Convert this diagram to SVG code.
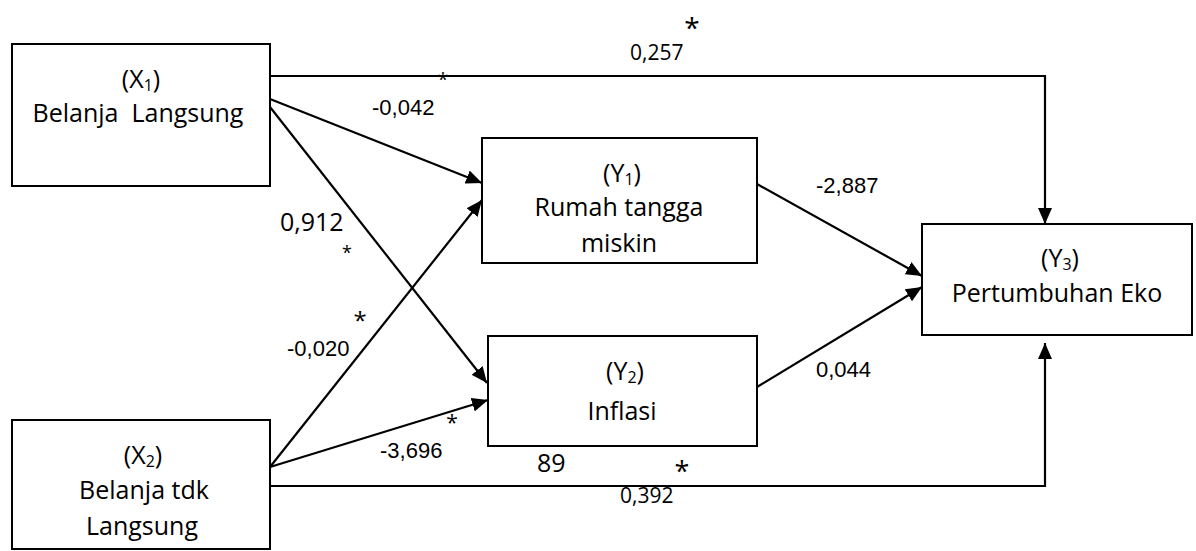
<svg xmlns="http://www.w3.org/2000/svg" width="1196" height="551" viewBox="0 0 1196 551">
<defs>
<style>
.box{fill:#fff;stroke:#000;stroke-width:2}
.lbl{font-family:"Open Sans",sans-serif;font-size:25px;fill:#000;text-anchor:middle}
.sub{font-size:16px}
.ar{font-family:"Liberation Sans",Arial,sans-serif;font-size:22px;fill:#000}
.ca{font-family:"Open Sans",sans-serif;fill:#000}
.edge{fill:none;stroke:#000;stroke-width:2.2}
</style>
<marker id="ah" markerUnits="userSpaceOnUse" markerWidth="18" markerHeight="14" refX="16" refY="7" orient="auto">
<path d="M0,0 L16,7 L0,14 Z" fill="#000"/>
</marker>
</defs>
<rect width="1196" height="551" fill="#fff"/>
<g id="connectors">
<polyline class="edge" points="270,76 1045,76 1045,224" marker-end="url(#ah)"/>
<polyline class="edge" points="270,486 1045,486 1045,343" marker-end="url(#ah)"/>
<line class="edge" x1="270" y1="99" x2="482" y2="183" marker-end="url(#ah)"/>
<line class="edge" x1="270" y1="107" x2="487" y2="383" marker-end="url(#ah)"/>
<line class="edge" x1="270" y1="467" x2="482" y2="200" marker-end="url(#ah)"/>
<line class="edge" x1="270" y1="467" x2="488" y2="400" marker-end="url(#ah)"/>
<line class="edge" x1="757" y1="184" x2="922" y2="276" marker-end="url(#ah)"/>
<line class="edge" x1="757" y1="387" x2="922" y2="287" marker-end="url(#ah)"/>
</g>
<g id="X1">
<rect class="box" x="12" y="44" width="258" height="142"/>
<text class="lbl" x="141" y="88">(X<tspan class="sub" dy="3">1</tspan><tspan dy="-3">)</tspan></text>
<text class="lbl" x="138" y="122" style="white-space:pre">Belanja  Langsung</text>
</g>
<g id="X2">
<rect class="box" x="12" y="420" width="258" height="129"/>
<text class="lbl" x="143" y="464">(X<tspan class="sub" dy="3">2</tspan><tspan dy="-3">)</tspan></text>
<text class="lbl" x="144" y="499">Belanja tdk</text>
<text class="lbl" x="142" y="535">Langsung</text>
</g>
<g id="Y1">
<rect class="box" x="482" y="138" width="275" height="125"/>
<text class="lbl" x="622" y="182">(Y<tspan class="sub" dy="3">1</tspan><tspan dy="-3">)</tspan></text>
<text class="lbl" x="619" y="216">Rumah tangga</text>
<text class="lbl" x="619" y="252">miskin</text>
</g>
<g id="Y2">
<rect class="box" x="488" y="336" width="269" height="110"/>
<text class="lbl" x="625" y="380">(Y<tspan class="sub" dy="3">2</tspan><tspan dy="-3">)</tspan></text>
<text class="lbl" x="622" y="420">Inflasi</text>
</g>
<g id="Y3">
<rect class="box" x="922" y="224" width="270" height="111"/>
<text class="lbl" x="1060" y="267">(Y<tspan class="sub" dy="3">3</tspan><tspan dy="-3">)</tspan></text>
<text class="lbl" x="1057" y="302">Pertumbuhan Eko</text>
</g>
<g id="labels">
<text class="ca" x="692" y="38" font-size="28" text-anchor="middle">*</text>
<text class="ca" x="630" y="60" font-size="21">0,257</text>
<text class="ca" x="443" y="86" font-size="19" text-anchor="middle">*</text>
<text class="ar" x="372" y="115">-0,042</text>
<text class="ar" x="816" y="193">-2,887</text>
<text class="ar" x="816" y="377">0,044</text>
<text class="ca" x="280" y="231" font-size="25">0,912</text>
<text class="ca" x="347" y="259" font-size="18" text-anchor="middle">*</text>
<text class="ar" x="287" y="356">-0,020</text>
<text class="ca" x="360" y="329" font-size="24" text-anchor="middle">*</text>
<text class="ca" x="452" y="430" font-size="21" text-anchor="middle">*</text>
<text class="ar" x="380" y="458">-3,696</text>
<text class="ca" x="537" y="472" font-size="25">89</text>
<text class="ca" x="682" y="481" font-size="27" text-anchor="middle">*</text>
<text class="ca" x="620" y="503" font-size="21">0,392</text>
</g>
</svg>
